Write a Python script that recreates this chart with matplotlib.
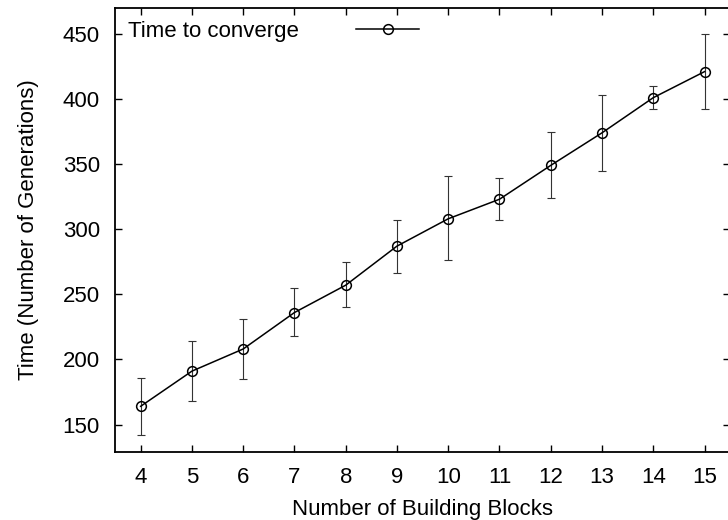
import numpy as np
import matplotlib
matplotlib.use('Agg')
import matplotlib.pyplot as plt

plt.rcParams['font.family'] = ['Liberation Sans', 'DejaVu Sans']

blocks = [4, 5, 6, 7, 8, 9, 10, 11, 12, 13, 14, 15]
time_mean = [164, 191, 208, 236, 257, 287, 308, 323, 349, 374, 401, 421]
time_low = [142, 168, 185, 218, 240, 266, 276, 307, 324, 345, 392, 392]
time_high = [186, 214, 231, 255, 275, 307, 341, 339, 375, 403, 410, 450]

mean = np.array(time_mean)
yerr = [mean - np.array(time_low), np.array(time_high) - mean]

fig = plt.figure(figsize=(7.28, 5.2), dpi=100, facecolor='white')
ax = fig.add_axes([0.158, 0.131, 0.845, 0.854])

ax.errorbar(blocks, mean, yerr=yerr, fmt='none', ecolor='#333333',
            elinewidth=0.8, capsize=3.2, capthick=0.8)
ax.plot(blocks, mean, '-o', color='black', linewidth=1.1, markersize=7,
        markerfacecolor='none', markeredgewidth=1.1, label='Time to converge')

ax.set_xlim(3.5, 15.5)
ax.set_ylim(129, 470)
ax.set_xticks(blocks)
ax.set_yticks(range(150, 451, 50))
ax.tick_params(direction='in', length=5, width=1, top=True, right=True,
               labelsize=16, pad=11)
for s in ax.spines.values():
    s.set_linewidth(1.3)

ax.set_xlabel('Number of Building Blocks', fontsize=16, labelpad=8)
ax.set_ylabel('Time (Number of Generations)', fontsize=16, labelpad=17)

ax.legend(loc='upper left', markerfirst=False, frameon=False, fontsize=16,
          handlelength=2.85, handletextpad=2.55, borderaxespad=0.2,
          borderpad=0.4)

plt.savefig('out.png', dpi=100)
